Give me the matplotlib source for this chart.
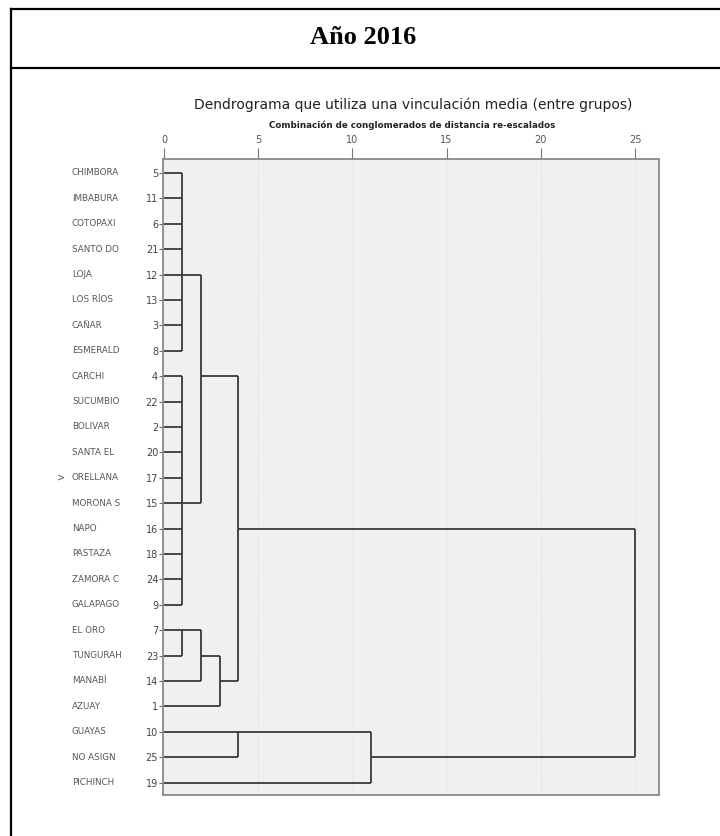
import matplotlib
matplotlib.use('Agg')
import matplotlib.pyplot as plt
from matplotlib import transforms
from matplotlib.lines import Line2D

# leaves in dendrogram order (top to bottom)
leaf_names = ["CHIMBORA", "IMBABURA", "COTOPAXI", "SANTO DO", "LOJA", "LOS RÍOS",
              "CAÑAR", "ESMERALD", "CARCHI", "SUCUMBIO", "BOLIVAR", "SANTA EL",
              "ORELLANA", "MORONA S", "NAPO", "PASTAZA", "ZAMORA C", "GALAPAGO",
              "EL ORO", "TUNGURAH", "MANABÍ", "AZUAY", "GUAYAS", "NO ASIGN", "PICHINCH"]
leaf_ids = [5, 11, 6, 21, 12, 13, 3, 8, 4, 22, 2, 20, 17, 15, 16, 18, 24, 9,
            7, 23, 14, 1, 10, 25, 19]

# merges: node numbers 0-24 are leaves, 25+ are the merges below (in order)
merge_children = [
    [0, 1, 2, 3, 4, 5, 6, 7],                  # 25
    [8, 9, 10, 11, 12, 13, 14, 15, 16, 17],    # 26
    [25, 26],                                  # 27
    [18, 19],                                  # 28
    [28, 20],                                  # 29
    [29, 21],                                  # 30
    [27, 30],                                  # 31
    [22, 23],                                  # 32
    [32, 24],                                  # 33
    [31, 33],                                  # 34
]
merge_heights = [0.96, 0.96, 1.95, 0.96, 1.95, 2.97, 3.94, 3.94, 11.0, 25.0]
# row where SPSS draws the line leaving each cluster
merge_rows = [4, 13, 8, 18, 19, 20, 14, 22, 23, 18.5]

xticks = [0, 5, 10, 15, 20, 25]

fig = plt.figure(figsize=(7.2, 8.36), dpi=100)

# table frame around the chart
fig.add_artist(Line2D([11/720, 11/720], [0, 1 - 9/836], color='black', lw=1.6))
fig.add_artist(Line2D([11/720, 1], [1 - 9/836, 1 - 9/836], color='black', lw=1.6))
fig.add_artist(Line2D([11/720, 1], [1 - 68/836, 1 - 68/836], color='black', lw=1.6))
fig.text(363/720, 1 - 38/836, "Año 2016", ha='center', va='center',
         fontsize=19, fontweight='bold', family='Liberation Serif')

ax = fig.add_axes([163/720, 41/836, 496/720, 636/836])
ax.set_facecolor('#f0f0f0')
ax.set_xlim(-0.05, 26.27)
ax.set_ylim(24.49, -0.55)

for s in ax.spines.values():
    s.set_color('#8a8a8a')
    s.set_linewidth(1.3)

for x in xticks[1:]:
    ax.axvline(x, color='#e2e2e2', lw=0.8, ls=(0, (2, 2)), zorder=0)

ax.xaxis.tick_top()
ax.set_xticks(xticks)
ax.set_xticklabels([str(t) for t in xticks])
ax.tick_params(axis='x', direction='out', length=8, width=0.8, color='#777777',
               labelsize=7, labelcolor='#555555', pad=2)

ax.set_yticks(range(len(leaf_ids)))
ax.set_yticklabels([str(i) for i in leaf_ids])
ax.tick_params(axis='y', direction='out', length=3, width=0.8, color='#666666',
               labelsize=7, labelcolor='#444444', pad=0.5)

# dendrogram
heights = [0.0] * len(leaf_ids) + merge_heights
rows = list(range(len(leaf_ids))) + merge_rows
line_kw = dict(color='#3a3a3a', lw=1.3, solid_capstyle='butt')
for k, children in enumerate(merge_children):
    h = merge_heights[k]
    for c in children:
        ax.plot([heights[c], h], [rows[c], rows[c]], **line_kw)
    crow = [rows[c] for c in children]
    ax.plot([h, h], [min(crow), max(crow)], **line_kw)

# leaf names on the left
trans = transforms.blended_transform_factory(fig.transFigure, ax.transData)
for i, name in enumerate(leaf_names):
    ax.text(72/720, i, name, transform=trans, ha='left', va='center',
            fontsize=6.3, color='#555555', clip_on=False)
ax.text(57/720, leaf_names.index("ORELLANA"), ">", transform=trans, ha='left',
        va='center', fontsize=7, color='#555555', clip_on=False)

fig.text(413/720, 1 - 105/836,
         "Dendrograma que utiliza una vinculación media (entre grupos)",
         ha='center', va='center', fontsize=10, color='#222222')
fig.text(412/720, 1 - 125/836,
         "Combinación de conglomerados de distancia re-escalados",
         ha='center', va='center', fontsize=6.3, fontweight='bold', color='#222222')

fig.savefig('out.png', dpi=100)
